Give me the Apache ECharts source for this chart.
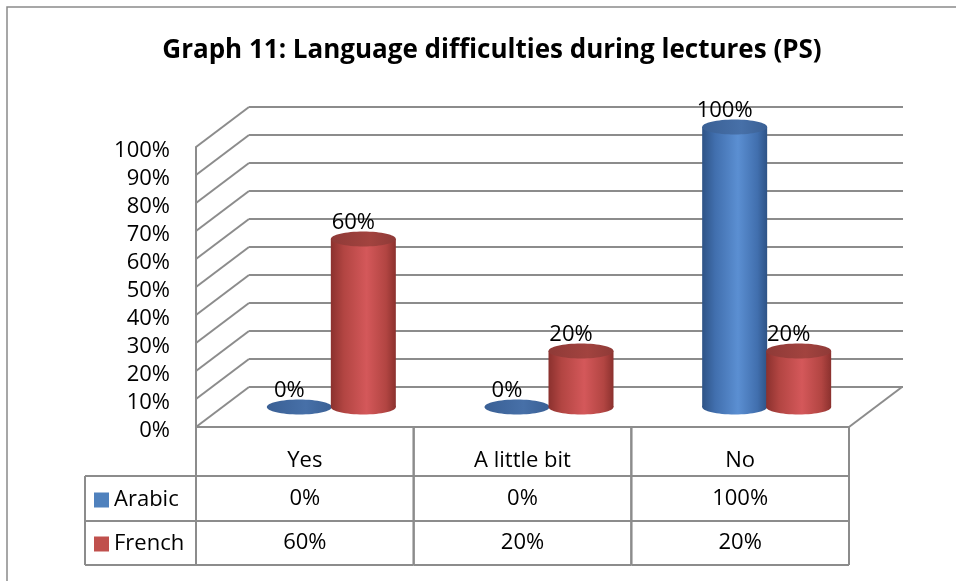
<!DOCTYPE html>
<html><head><meta charset="utf-8">
<script src="https://cdn.jsdelivr.net/npm/echarts@6/dist/echarts.min.js"></script>
<style>html,body{margin:0;padding:0;background:#fff}#c{width:956px;height:581px}</style>
</head><body><div id="c"></div>
<script>
// ---- data ----
const titleText = 'Graph 11: Language difficulties during lectures (PS)';
const categories = ['Yes', 'A little bit', 'No'];
const seriesNames = ['Arabic', 'French'];
const arabic = [0, 0, 100];
const french = [60, 20, 20];
const yTicks = [0, 10, 20, 30, 40, 50, 60, 70, 80, 90, 100];

// ---- style / layout ----
const FONT = "'Open Sans', sans-serif";
const FRONT = { left: 196, top: 147, width: 653, height: 280 };
const DEPTH = { dx: 53, dy: -40 };
const BAR_W = 65, BAR_OFF = 32, RY = 7.5;
const GRID_C = '#8c8c8c';
const ROW_H = [49, 45, 44];
const LEG_X = 85;
const COLORS = {
  Arabic: { legend: '#4f81bd', dark: '#2e5386', mid: '#416fae', light: '#5b8fd2', top: ['#3a6095', '#4770a8'] },
  French: { legend: '#c0504d', dark: '#8b312e', mid: '#b24542', light: '#d4585a', top: ['#8f3a37', '#a2433f'] }
};

const chart = echarts.init(document.getElementById('c'), null, { renderer: 'canvas' });

function cylinderRender(name, side) {
  const c = COLORS[name];
  return function (params, api) {
    const ci = api.value(0), v = api.value(1);
    const base = api.coord([ci, 0]);
    const top = api.coord([ci, v]);
    const cx = base[0] + DEPTH.dx / 2 + side;
    const yb = base[1] + DEPTH.dy / 2;
    const yt = top[1] + DEPTH.dy / 2;
    const rx = BAR_W / 2;
    const body = new echarts.graphic.LinearGradient(0, 0, 1, 0, [
      { offset: 0, color: c.dark }, { offset: 0.2, color: c.mid },
      { offset: 0.55, color: c.light }, { offset: 0.85, color: c.mid }, { offset: 1, color: c.dark }
    ]);
    const topFill = new echarts.graphic.LinearGradient(0, 0, 1, 0, [
      { offset: 0, color: c.top[0] }, { offset: 0.6, color: c.top[1] }, { offset: 1, color: c.top[0] }
    ]);
    const children = [];
    if (yb - yt > 0.5) {
      children.push({ type: 'ellipse', shape: { cx: cx, cy: yb, rx: rx, ry: RY }, style: { fill: body } });
      children.push({ type: 'rect', shape: { x: cx - rx, y: yt, width: 2 * rx, height: yb - yt }, style: { fill: body } });
    }
    children.push({ type: 'ellipse', shape: { cx: cx, cy: yt, rx: rx, ry: RY }, style: { fill: topFill } });
    children.push({ type: 'text', style: { text: v + '%', x: cx - 10, y: yt - RY + 2, align: 'center', verticalAlign: 'bottom', fontSize: 22, fontFamily: FONT, fill: '#000' } });
    return { type: 'group', children: children };
  };
}

function wallsRender(params, api) {
  const cs = params.coordSys;
  const children = [];
  yTicks.forEach(function (t) {
    const y = api.coord([0, t])[1];
    children.push({ type: 'line', shape: { x1: cs.x, y1: y, x2: cs.x + DEPTH.dx, y2: y + DEPTH.dy }, style: { stroke: GRID_C, lineWidth: 2 } });
    children.push({ type: 'text', style: { text: t + '%', x: cs.x - 26, y: y + 3.5, align: 'right', verticalAlign: 'middle', fontSize: 22, fontFamily: FONT, fill: '#000' } });
  });
  const y0 = api.coord([0, 0])[1];
  children.push({ type: 'line', shape: { x1: cs.x + cs.width, y1: y0, x2: cs.x + cs.width + DEPTH.dx, y2: y0 + DEPTH.dy }, style: { stroke: GRID_C, lineWidth: 2 } });
  return { type: 'group', children: children };
}

function tableRender(params, api) {
  const i = api.value(0);
  const c = api.coord([i, 0]);
  const bw = api.size([1, 0])[0];
  const x0 = c[0] - bw / 2, x1 = c[0] + bw / 2;
  const r = [c[1]];
  ROW_H.forEach(function (h) { r.push(r[r.length - 1] + h); });
  const ls = { stroke: GRID_C, lineWidth: 2 };
  const ch = [];
  ch.push({ type: 'line', shape: { x1: x0, y1: r[0], x2: x0, y2: r[3] }, style: ls });
  ch.push({ type: 'line', shape: { x1: x1, y1: r[0], x2: x1, y2: r[3] }, style: ls });
  for (let k = 1; k <= 3; k++) ch.push({ type: 'line', shape: { x1: x0, y1: r[k], x2: x1, y2: r[k] }, style: ls });
  if (i === 0) {
    for (let k = 1; k <= 3; k++) ch.push({ type: 'line', shape: { x1: LEG_X, y1: r[k], x2: x0, y2: r[k] }, style: ls });
    ch.push({ type: 'line', shape: { x1: LEG_X, y1: r[1], x2: LEG_X, y2: r[3] }, style: ls });
  }
  const ts = function (txt, y) {
    return { type: 'text', style: { text: txt, x: c[0], y: y, align: 'center', verticalAlign: 'middle', fontSize: 22, fontFamily: FONT, fill: '#000' } };
  };
  ch.push(ts(categories[i], r[0] + 34));
  ch.push(ts(arabic[i] + '%', (r[1] + r[2]) / 2));
  ch.push(ts(french[i] + '%', (r[2] + r[3]) / 2));
  return { type: 'group', children: ch };
}

const option = {
  backgroundColor: '#fff',
  animation: false,
  title: {
    text: titleText, left: 487, top: 33, textAlign: 'center',
    textStyle: { fontFamily: FONT, fontSize: 26, fontWeight: 'bold', color: '#000' }
  },
  legend: {
    data: seriesNames, orient: 'vertical', left: 94, top: 489, padding: 0,
    itemWidth: 15, itemHeight: 15, itemGap: 22, icon: 'rect',
    textStyle: { fontFamily: FONT, fontSize: 22, color: '#000' },
    selectedMode: false
  },
  graphic: [{ type: 'rect', shape: { x: 7, y: 7, width: 1200, height: 1000 }, style: { fill: 'none', stroke: '#8a8a8a', lineWidth: 1.5 }, z: 100 }],
  grid: [
    { left: FRONT.left, top: FRONT.top, width: FRONT.width, height: FRONT.height },
    { left: FRONT.left + DEPTH.dx, top: FRONT.top + DEPTH.dy, width: FRONT.width + 1, height: FRONT.height }
  ],
  xAxis: [
    { type: 'category', gridIndex: 0, data: categories, axisLine: { show: true, lineStyle: { color: GRID_C, width: 2 } }, axisTick: { show: false }, axisLabel: { show: false }, splitLine: { show: false } },
    { type: 'category', gridIndex: 1, data: categories, show: false }
  ],
  yAxis: [
    { type: 'value', gridIndex: 0, min: 0, max: 100, interval: 10,
      axisLine: { show: true, lineStyle: { color: GRID_C, width: 2 } }, axisTick: { show: false }, splitLine: { show: false },
      axisLabel: { show: false } },
    { type: 'value', gridIndex: 1, min: 0, max: 100, interval: 10,
      axisLine: { show: false }, axisTick: { show: false }, axisLabel: { show: false },
      splitLine: { show: true, lineStyle: { color: GRID_C, width: 2 } } }
  ],
  series: [
    { type: 'custom', name: 'walls', xAxisIndex: 0, yAxisIndex: 0, data: [[0]], renderItem: wallsRender, silent: true, z: 1 },
    { type: 'custom', name: 'Arabic', xAxisIndex: 0, yAxisIndex: 0, itemStyle: { color: COLORS.Arabic.legend },
      data: arabic.map(function (v, i) { return [i, v]; }), renderItem: cylinderRender('Arabic', -BAR_OFF), z: 3 },
    { type: 'custom', name: 'French', xAxisIndex: 0, yAxisIndex: 0, itemStyle: { color: COLORS.French.legend },
      data: french.map(function (v, i) { return [i, v]; }), renderItem: cylinderRender('French', BAR_OFF), z: 4 },
    { type: 'custom', name: 'table', xAxisIndex: 0, yAxisIndex: 0, data: categories.map(function (c, i) { return [i]; }), renderItem: tableRender, silent: true, z: 2 }
  ]
};
chart.setOption(option);
</script>
</body></html>
